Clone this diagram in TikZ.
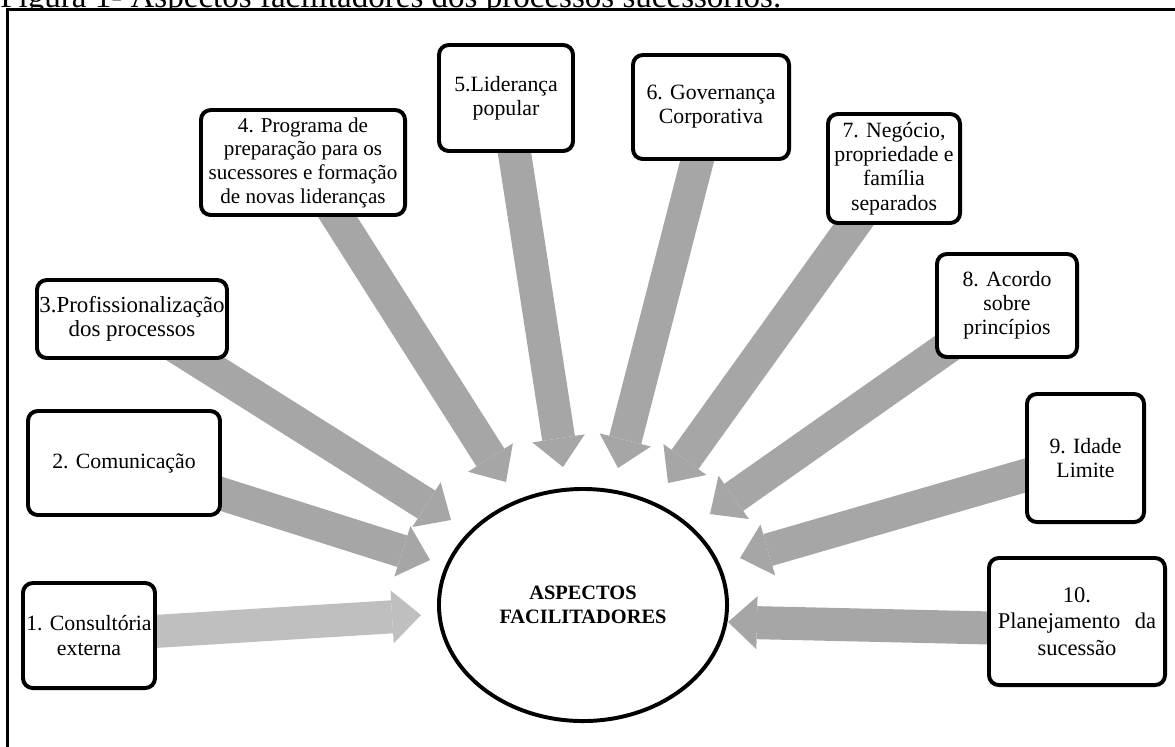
\documentclass[tikz,border=0pt]{standalone}
\usepackage{fontspec}
\setmainfont{Liberation Serif}
\usepackage{tikz}
\usetikzlibrary{shapes.geometric}
\usetikzlibrary{arrows.meta}
\usetikzlibrary{positioning}
\definecolor{shaftgray}{HTML}{A6A6A6}
\definecolor{shaftlight}{HTML}{BFBFBF}
\pgfdeclarelayer{bg}
\pgfsetlayers{bg,main}

\begin{document}
\begin{tikzpicture}[x=0.025cm, y=-0.025cm,
    box/.style={draw, line width=2.8pt, rounded corners=7pt, fill=white,
      align=center, inner sep=1pt, font=\fontsize{15.5}{17.2}\selectfont},
    bigarrow/.style={draw=shaftgray, line width=23.5pt,
      -{Triangle[length=20.6pt, width=37.7pt, line width=0pt]}}]
  \useasboundingbox (0,0) rectangle (1175,746);

  % caption, cut by the page edge
  \begin{scope}
    \clip (0,0) rectangle (1175,9);
    \node[anchor=base west, inner sep=0pt, font=\fontsize{23.5}{28}\selectfont]
      (cap) at (0,7) {Figura 1- Aspectos facilitadores dos processos sucessórios.};
  \end{scope}

  % frame
  \draw[line width=1.5pt] (7.5,780) -- (7.5,9.5) -- (1200,9.5);

  % centre
  \node[ellipse, draw, line width=2.8pt, fill=white, minimum width=7.2cm,
    minimum height=5.8cm, inner sep=0pt, align=center,
    font=\fontsize{14.5}{17}\selectfont\bfseries] (asp) at (583,605)
    {ASPECTOS\\FACILITADORES};

  % boxes
  \node[box, minimum width=3.3cm, minimum height=2.625cm] (b1) at (89,635.5)
    {1. Consultória\\externa};
  \node[box, minimum width=4.8cm, minimum height=2.6cm] (b2) at (124,463)
    {2. Comunicação};
  \node[box, minimum width=4.75cm, minimum height=1.95cm,
    font=\fontsize{16.3}{17.2}\selectfont] (b3) at (132,319)
    {3.Profissionalização\\dos processos};
  \node[box, minimum width=5.1cm, minimum height=2.625cm,
    font=\fontsize{15}{16.8}\selectfont] (b4) at (303,162.5)
    {4. Programa de\\preparação para os\\sucessores e formação\\de novas lideranças};
  \node[box, minimum width=3.35cm, minimum height=2.65cm] (b5) at (506,98)
    {5.Liderança\\popular};
  \node[box, minimum width=3.9cm, minimum height=2.6cm] (b6) at (711,107)
    {6. Governança\\Corporativa};
  \node[box, minimum width=3.3cm, minimum height=2.725cm] (b7) at (894,168.5)
    {7. Negócio,\\propriedade e\\família\\separados};
  \node[box, minimum width=3.5cm, minimum height=2.575cm] (b8) at (1007,305.5)
    {8. Acordo\\sobre\\princípios};
  \node[box, minimum width=2.925cm, minimum height=3.2cm] (b9) at (1085.5,458)
    {9. Idade\\Limite};
  \node[box, minimum width=4.4cm, minimum height=3.175cm,
    font=\fontsize{16}{19}\selectfont] (b10) at (1077,621.5)
    {10.\\Planejamento\hspace{0.65em}da\\sucessão};

  % arrow tips
  \coordinate (t1) at (421,615);
  \coordinate (t2) at (430,560);
  \coordinate (t3) at (451,520);
  \coordinate (t4) at (506,482);
  \coordinate (t5) at (563,467);
  \coordinate (t6) at (618,468);
  \coordinate (t7) at (668,483);
  \coordinate (t8) at (710,514);
  \coordinate (t9) at (740,558);
  \coordinate (t10) at (728,622);

  % arrows
  \begin{pgfonlayer}{bg}
    \draw[bigarrow, draw=shaftlight] (b1.center) -- (t1);
    \draw[bigarrow] (b2.center) -- (t2);
    \draw[bigarrow] (b3.center) -- (t3);
    \draw[bigarrow] (b4.center) -- (t4);
    \draw[bigarrow] (b5.center) -- (t5);
    \draw[bigarrow] (b6.center) -- (t6);
    \draw[bigarrow] (b7.center) -- (t7);
    \draw[bigarrow] (b8.center) -- (t8);
    \draw[bigarrow] (b9.center) -- (t9);
    \draw[bigarrow] ([yshift=-6pt]b10.center) -- (t10);
  \end{pgfonlayer}
\end{tikzpicture}
\end{document}
